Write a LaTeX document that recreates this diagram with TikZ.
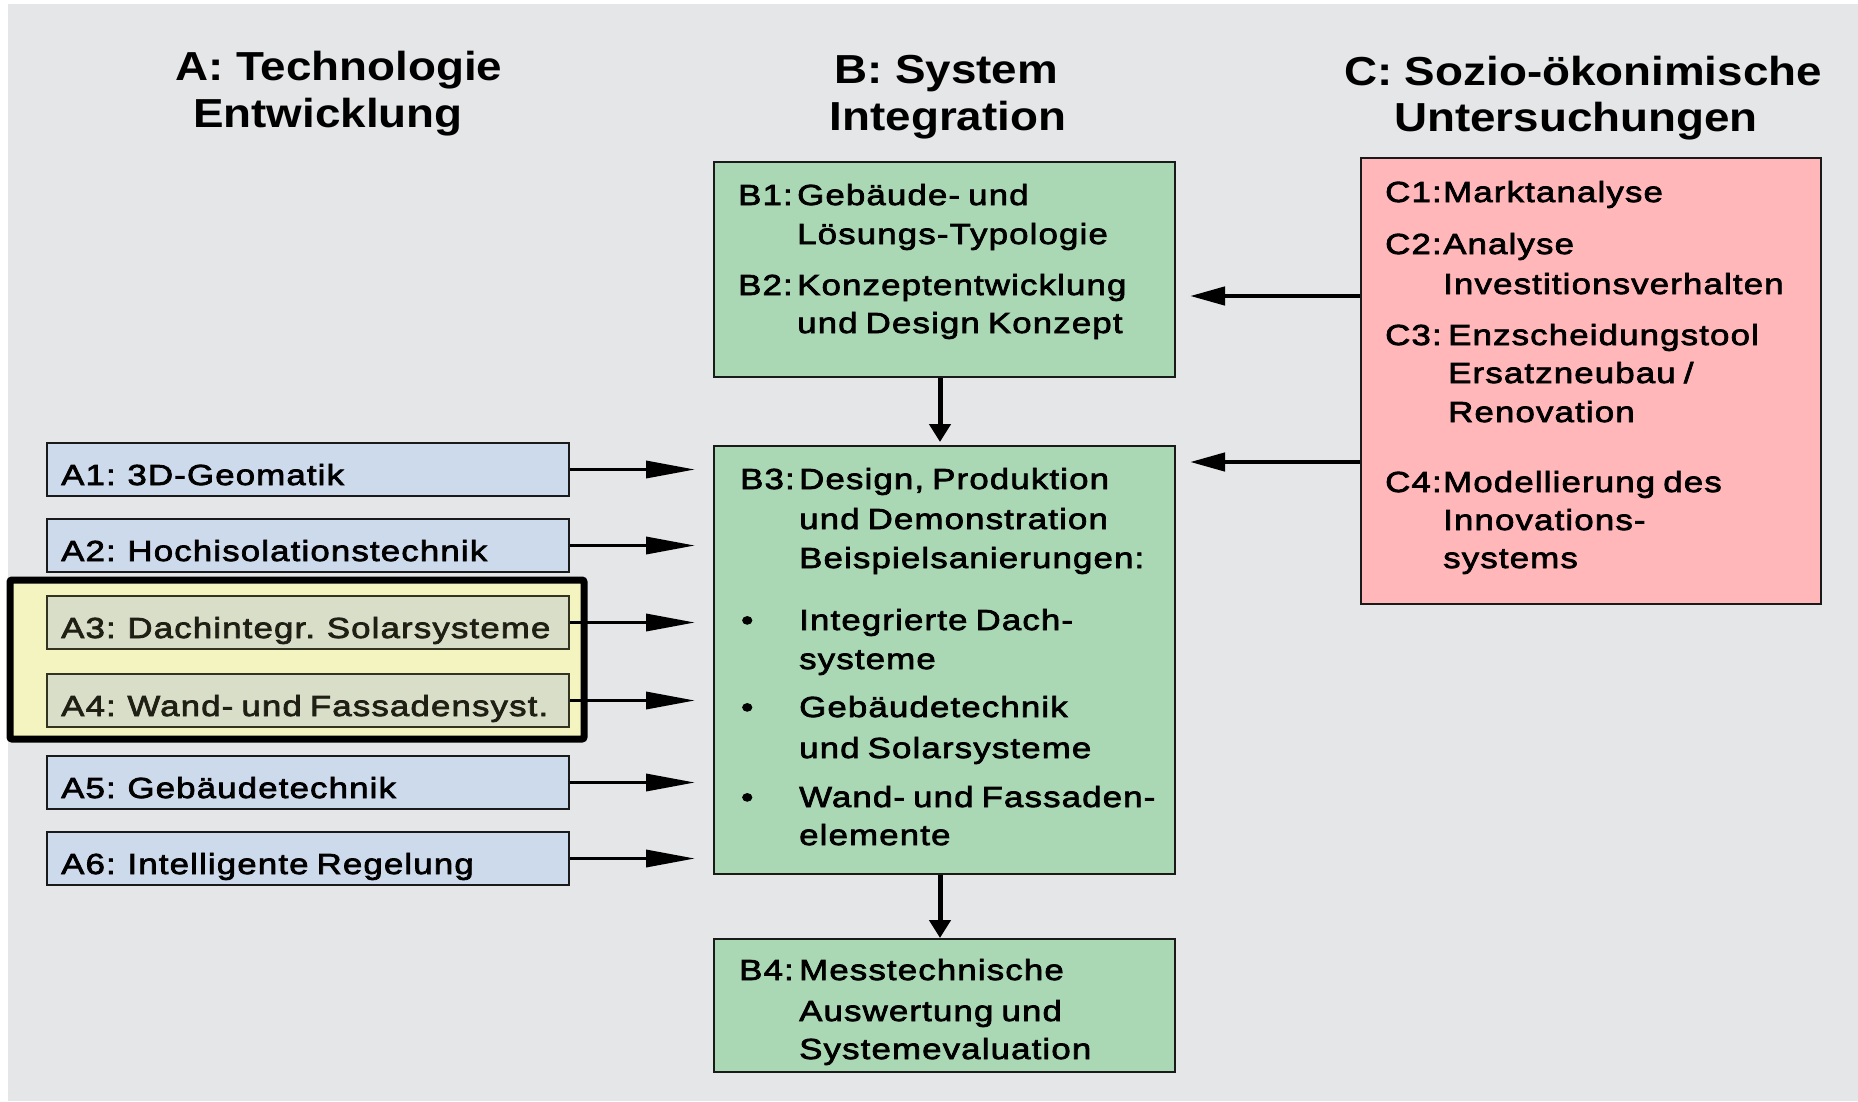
\documentclass[tikz,border=0pt]{standalone}
\usepackage{fontspec}
\setmainfont{Liberation Sans}
\newfontfamily\titlefont{Liberation Sans}[FakeStretch=1.13]
\newfontfamily\boxfont{Liberation Sans}[FakeStretch=1.2,LetterSpace=4,FakeBold=2.5,WordSpace=0.75]
\usetikzlibrary{arrows.meta}
\definecolor{bgc}{HTML}{E5E6E8}
\definecolor{ablue}{HTML}{CCDAEB}
\definecolor{atint}{HTML}{D8DEC8}
\definecolor{bgreen}{HTML}{AAD8B4}
\definecolor{cpink}{HTML}{FFB7BA}
\definecolor{hyellow}{HTML}{F4F4C0}
\definecolor{bordc}{HTML}{1A1A1A}
\definecolor{olive}{HTML}{333322}
\begin{document}
\begin{tikzpicture}[x=1pt,y=-1pt,
  box/.style={draw=bordc, line width=2pt, inner sep=0pt},
  abox/.style={box, fill=ablue, minimum width=522pt, minimum height=53pt},
  bbox/.style={box, fill=bgreen, minimum width=461pt},
  ttl/.style={font=\titlefont\bfseries\fontsize{40.5pt}{47pt}\selectfont, inner sep=0pt},
  txt/.style={font=\boxfont\fontsize{29pt}{39pt}\selectfont, inner sep=0pt, anchor=base west},
  aarrow/.style={line width=3.5pt, -{Triangle[length=49pt,width=17pt]}},
  carrow/.style={line width=4.5pt, -{Triangle[length=35pt,width=18pt]}},
  darrow/.style={line width=5pt, -{Triangle[length=18pt,width=21pt]}}]
\useasboundingbox (0,0) rectangle (1858,1101);
\fill[bgc] (8,4) rectangle (1858,1101);

% titles
\node[ttl, anchor=base west] (tA1) at (175,80) {A: Technologie};
\node[ttl, anchor=base west] (tA2) at (193,127) {Entwicklung};
\node[ttl, anchor=base] (tB1) at (946,83) {B: System};
\node[ttl, anchor=base] (tB2) at (948,130) {Integration};
\node[ttl, anchor=base] (tC1) at (1583,85) {C: Sozio-ökonimische};
\node[ttl, anchor=base] (tC2) at (1576,131) {Untersuchungen};

% highlight frame
\draw[line width=7pt, rounded corners=2pt, fill=hyellow] (10,580) rectangle (584,739);

% A boxes
\node[abox] (a1) at (308,469.5) {};
\node[abox] (a2) at (308,545.5) {};
\node[abox, fill=atint, draw=olive] (a3) at (308,622.5) {};
\node[abox, fill=atint, draw=olive] (a4) at (308,700.5) {};
\node[abox] (a5) at (308,782.5) {};
\node[abox] (a6) at (308,858.5) {};
\node[txt] (a1t) at (61,485) {A1: 3D-Geomatik};
\node[txt] (a2t) at (61,561) {A2: Hochisolationstechnik};
\node[txt, text=olive!60!black] (a3t) at (61,638) {A3: Dachintegr. Solarsysteme};
\node[txt, text=olive!60!black] (a4t) at (61,716) {A4: Wand- und Fassadensyst.};
\node[txt] (a5t) at (61,798) {A5: Gebäudetechnik};
\node[txt] (a6t) at (61,874) {A6: Intelligente Regelung};

% B boxes
\node[bbox, minimum height=215pt] (b1) at (944.5,269.5) {};
\node[bbox, minimum height=428pt] (b3) at (944.5,660) {};
\node[bbox, minimum height=133pt] (b4) at (944.5,1005.5) {};

\node[txt] (b1l) at (738,205) {B1:};
\node[txt] (b1a) at (797,205) {Gebäude- und};
\node[txt] (b1b) at (797,244) {Lösungs-Typologie};
\node[txt] (b2l) at (738,295) {B2:};
\node[txt] (b2a) at (797,295) {Konzeptentwicklung};
\node[txt] (b2b) at (797,333) {und Design Konzept};

\node[txt] (b3l) at (740,489) {B3:};
\node[txt] (b3a) at (799,489) {Design, Produktion};
\node[txt] (b3b) at (799,529) {und Demonstration};
\node[txt] (b3c) at (799,568) {Beispielsanierungen:};
\node[txt] (p1) at (741,630) {•};
\node[txt] (b3d) at (799,630) {Integrierte Dach-};
\node[txt] (b3e) at (799,669) {systeme};
\node[txt] (p2) at (741,717) {•};
\node[txt] (b3f) at (799,717) {Gebäudetechnik};
\node[txt] (b3g) at (799,758) {und Solarsysteme};
\node[txt] (p3) at (741,807) {•};
\node[txt] (b3h) at (799,807) {Wand- und Fassaden-};
\node[txt] (b3i) at (799,845) {elemente};

\node[txt] (b4l) at (739,980) {B4:};
\node[txt] (b4a) at (799,980) {Messtechnische};
\node[txt] (b4b) at (799,1021) {Auswertung und};
\node[txt] (b4c) at (799,1059) {Systemevaluation};

% C box
\node[box, fill=cpink, minimum width=460pt, minimum height=446pt] (c) at (1591,381) {};
\node[txt] (c1l) at (1385,202) {C1:};
\node[txt] (c1a) at (1443,202) {Marktanalyse};
\node[txt] (c2l) at (1385,254) {C2:};
\node[txt] (c2a) at (1443,254) {Analyse};
\node[txt] (c2b) at (1443,294) {Investitionsverhalten};
\node[txt] (c3l) at (1385,345) {C3:};
\node[txt] (c3a) at (1448,345) {Enzscheidungstool};
\node[txt] (c3b) at (1448,383) {Ersatzneubau /};
\node[txt] (c3c) at (1448,422) {Renovation};
\node[txt] (c4l) at (1385,492) {C4:};
\node[txt] (c4a) at (1443,492) {Modellierung des};
\node[txt] (c4b) at (1443,530) {Innovations-};
\node[txt] (c4c) at (1443,568) {systems};

% connectors
\foreach \n in {a1,a2,a3,a4,a5,a6}
  \draw[aarrow, shorten >=18pt] (\n.east) -- (\n.east -| b3.west);

\coordinate (vx) at (940,0);
\draw[darrow, shorten >=3pt] (b1.south -| vx) -- (b3.north -| vx);
\draw[darrow] (b3.south -| vx) -- (b4.north -| vx);

\coordinate (cy2) at (0,296);
\coordinate (cy4) at (0,462);
\draw[carrow, shorten >=14pt] (c.west |- cy2) -- (b1.east |- cy2);
\draw[carrow, shorten >=14pt] (c.west |- cy4) -- (b3.east |- cy4);
\end{tikzpicture}
\end{document}
